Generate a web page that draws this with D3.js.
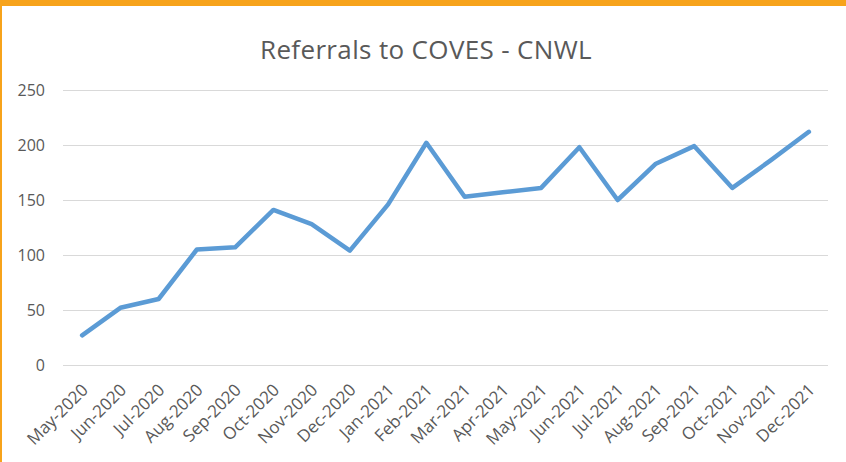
<!DOCTYPE html>
<html>
<head>
<meta charset="utf-8">
<script src="https://cdn.jsdelivr.net/npm/d3@7"></script>
<style>
  html, body { margin: 0; padding: 0; background: #fff; }
  svg { display: block; font-family: 'Open Sans', sans-serif; }
</style>
</head>
<body>
<div id="chart"></div>
<script>
const months = ['May-2020', 'Jun-2020', 'Jul-2020', 'Aug-2020', 'Sep-2020', 'Oct-2020', 'Nov-2020', 'Dec-2020',
  'Jan-2021', 'Feb-2021', 'Mar-2021', 'Apr-2021', 'May-2021', 'Jun-2021', 'Jul-2021', 'Aug-2021',
  'Sep-2021', 'Oct-2021', 'Nov-2021', 'Dec-2021']
const referrals = [27, 52, 60, 105, 107, 141, 128, 104, 146, 202, 153, 157, 161, 198, 150, 183, 199, 161, 186, 212]
const yTicks = [0, 50, 100, 150, 200, 250]
const title = 'Referrals to COVES - CNWL'

const w = 846, h = 462
const margin = { top: 90, right: 18, bottom: 97, left: 63 }
const textColor = '#595959'

const svg = d3.select('#chart').append('svg')
  .attr('width', w)
  .attr('height', h)

// frame: orange top strip and thin left edge
svg.append('rect').attr('x', 0).attr('y', 0).attr('width', w).attr('height', 6).attr('fill', '#F7A31B')
svg.append('rect').attr('x', 0).attr('y', 0).attr('width', 2).attr('height', h).attr('fill', '#F7A31B')

const x = d3.scaleBand().domain(months).range([margin.left, w - margin.right])
const y = d3.scaleLinear().domain([0, 250]).range([h - margin.bottom, margin.top])

// gridlines
svg.append('g')
  .attr('transform', `translate(${margin.left},0)`)
  .call(d3.axisLeft(y).tickValues(yTicks).tickSize(-(w - margin.left - margin.right)).tickFormat(''))
  .call(g => g.select('.domain').remove())
  .call(g => g.selectAll('line').attr('stroke', '#D9D9D9').attr('stroke-width', 1.2))

// y labels
svg.append('g')
  .attr('transform', `translate(${margin.left},0)`)
  .call(d3.axisLeft(y).tickValues(yTicks).tickSize(0).tickPadding(18))
  .call(g => g.select('.domain').remove())
  .call(g => g.selectAll('text')
    .attr('font-family', "'Open Sans', sans-serif")
    .attr('font-size', '16px')
    .attr('fill', textColor))

// x labels, rotated
svg.append('g')
  .attr('transform', `translate(0,${h - margin.bottom})`)
  .call(d3.axisBottom(x).tickSize(0).tickPadding(0))
  .call(g => g.select('.domain').remove())
  .call(g => g.selectAll('text')
    .attr('font-family', "'Open Sans', sans-serif")
    .attr('font-size', '17px')
    .attr('fill', textColor)
    .attr('text-anchor', 'end')
    .attr('dy', 0)
    .attr('transform', 'translate(7,26) rotate(-45)'))

const line = d3.line()
  .x((d, i) => x(months[i]) + x.bandwidth() / 2)
  .y(d => y(d))

svg.append('path')
  .datum(referrals)
  .attr('d', line)
  .attr('fill', 'none')
  .attr('stroke', '#5B9BD5')
  .attr('stroke-width', 4.5)
  .attr('stroke-linejoin', 'round')
  .attr('stroke-linecap', 'round')

svg.append('text')
  .text(title)
  .attr('x', 426)
  .attr('y', 59)
  .attr('text-anchor', 'middle')
  .attr('font-size', '26px')
  .attr('letter-spacing', '0.35px')
  .attr('fill', textColor)
</script>
</body>
</html>
